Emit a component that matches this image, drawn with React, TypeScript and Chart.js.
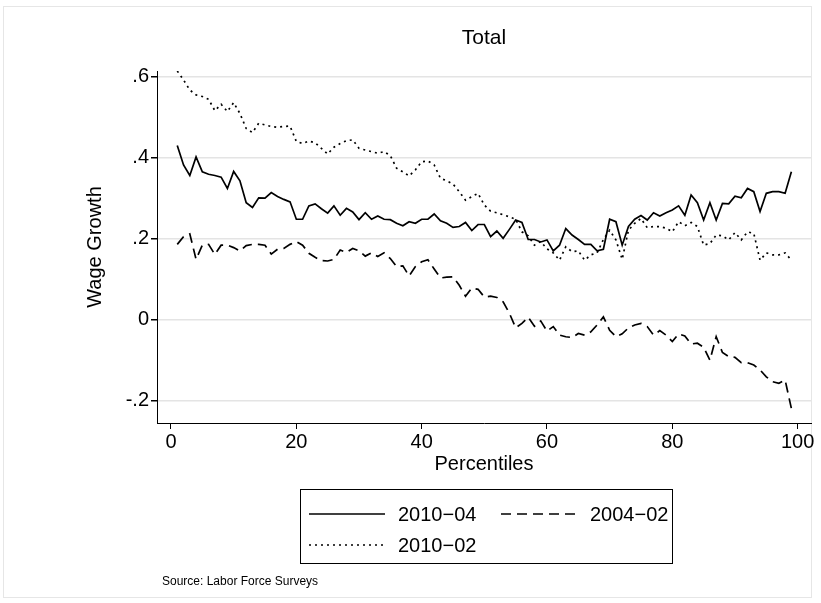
import React, { useEffect, useRef } from "react";
import { Chart, registerables } from "chart.js";

Chart.register(...registerables);

const PERCENTILES = [
  1, 2, 3, 4, 5, 6, 7, 8, 9, 10, 11, 12, 13, 14, 15, 16, 17, 18, 19, 20,
  21, 22, 23, 24, 25, 26, 27, 28, 29, 30, 31, 32, 33, 34, 35, 36, 37, 38, 39, 40,
  41, 42, 43, 44, 45, 46, 47, 48, 49, 50, 51, 52, 53, 54, 55, 56, 57, 58, 59, 60,
  61, 62, 63, 64, 65, 66, 67, 68, 69, 70, 71, 72, 73, 74, 75, 76, 77, 78, 79, 80,
  81, 82, 83, 84, 85, 86, 87, 88, 89, 90, 91, 92, 93, 94, 95, 96, 97, 98, 99,
];

const GROWTH_2010_04 = [
  0.430, 0.382, 0.356, 0.402, 0.365, 0.359, 0.356, 0.352, 0.324, 0.366,
  0.343, 0.289, 0.277, 0.301, 0.300, 0.314, 0.304, 0.297, 0.291, 0.248,
  0.248, 0.281, 0.286, 0.274, 0.263, 0.281, 0.258, 0.275, 0.266, 0.247,
  0.264, 0.248, 0.256, 0.248, 0.247, 0.238, 0.232, 0.242, 0.238, 0.248,
  0.248, 0.261, 0.244, 0.238, 0.228, 0.230, 0.240, 0.220, 0.235, 0.235,
  0.205, 0.219, 0.201, 0.223, 0.246, 0.240, 0.198, 0.198, 0.192, 0.197,
  0.170, 0.184, 0.225, 0.209, 0.198, 0.186, 0.186, 0.170, 0.174, 0.248,
  0.242, 0.184, 0.230, 0.248, 0.257, 0.246, 0.264, 0.256, 0.264, 0.271,
  0.281, 0.258, 0.308, 0.289, 0.246, 0.289, 0.246, 0.287, 0.286, 0.305,
  0.301, 0.324, 0.316, 0.267, 0.312, 0.316, 0.316, 0.312, 0.365,
];

const GROWTH_2004_02 = [
  0.186, 0.205, 0.212, 0.149, 0.184, 0.186, 0.161, 0.184, 0.184, 0.178,
  0.170, 0.183, 0.186, 0.186, 0.184, 0.162, 0.174, 0.176, 0.186, 0.193,
  0.184, 0.164, 0.154, 0.146, 0.145, 0.149, 0.172, 0.166, 0.176, 0.170,
  0.157, 0.165, 0.156, 0.165, 0.151, 0.131, 0.133, 0.108, 0.131, 0.143,
  0.148, 0.125, 0.103, 0.105, 0.106, 0.085, 0.058, 0.078, 0.075, 0.056,
  0.058, 0.055, 0.044, 0.016, -0.020, -0.009, 0.006, -0.016, -0.003, -0.028,
  -0.017, -0.038, -0.042, -0.044, -0.034, -0.038, -0.030, -0.013, 0.007, -0.026,
  -0.042, -0.035, -0.020, -0.013, -0.009, -0.017, -0.038, -0.027, -0.038, -0.054,
  -0.035, -0.040, -0.060, -0.058, -0.068, -0.100, -0.042, -0.081, -0.091, -0.093,
  -0.106, -0.106, -0.112, -0.124, -0.141, -0.153, -0.157, -0.149, -0.219,
];

const GROWTH_2010_02 = [
  0.614, 0.592, 0.567, 0.555, 0.551, 0.544, 0.516, 0.532, 0.514, 0.536,
  0.509, 0.472, 0.462, 0.485, 0.481, 0.477, 0.475, 0.477, 0.478, 0.440,
  0.435, 0.441, 0.437, 0.423, 0.409, 0.426, 0.435, 0.442, 0.444, 0.423,
  0.419, 0.415, 0.411, 0.415, 0.405, 0.374, 0.365, 0.355, 0.370, 0.390,
  0.392, 0.382, 0.349, 0.343, 0.335, 0.316, 0.295, 0.304, 0.312, 0.283,
  0.268, 0.264, 0.259, 0.254, 0.248, 0.217, 0.207, 0.184, 0.193, 0.175,
  0.165, 0.147, 0.180, 0.168, 0.170, 0.147, 0.160, 0.165, 0.198, 0.221,
  0.197, 0.149, 0.221, 0.238, 0.250, 0.227, 0.230, 0.230, 0.226, 0.217,
  0.242, 0.232, 0.240, 0.230, 0.184, 0.188, 0.209, 0.207, 0.197, 0.215,
  0.197, 0.217, 0.213, 0.147, 0.165, 0.160, 0.160, 0.165, 0.147,
];

const X_TICKS = [0, 20, 40, 60, 80, 100];
const Y_TICKS = [-0.2, 0, 0.2, 0.4, 0.6];
const Y_TICK_LABELS = ["-.2", "0", ".2", ".4", ".6"];

const SERIES_LABELS = ["2010\u221204", "2004\u221202", "2010\u221202"];
const TITLE = "Total";
const X_TITLE = "Percentiles";
const Y_TITLE = "Wage Growth";
const NOTE = "Source: Labor Force Surveys";

const FONT = "'Liberation Sans', Arial, Helvetica, sans-serif";

const DASHES: number[][] = [[], [10, 6], [2, 4]];

const framePlugin = {
  id: "stataFrame",
  beforeDraw(chart: any) {
    const ctx = chart.ctx as CanvasRenderingContext2D;
    ctx.save();
    ctx.fillStyle = "#fff";
    ctx.fillRect(0, 0, chart.width, chart.height);
    ctx.strokeStyle = "#e6e6e6";
    ctx.lineWidth = 1;
    ctx.strokeRect(3.5, 6.5, 808, 591);
    ctx.restore();
  },
};

const legendPlugin = {
  id: "stataLegend",
  afterDraw(chart: any) {
    const ctx = chart.ctx as CanvasRenderingContext2D;
    ctx.save();
    ctx.strokeStyle = "#000";
    ctx.lineWidth = 1;
    ctx.strokeRect(300.5, 489.5, 372, 74);

    const items = [
      { x: 309, y: 514, ds: 0 },
      { x: 501, y: 514, ds: 1 },
      { x: 309, y: 545, ds: 2 },
    ];
    ctx.font = `20px ${FONT}`;
    ctx.fillStyle = "#000";
    ctx.textBaseline = "middle";
    ctx.textAlign = "left";
    items.forEach((it) => {
      const ds = chart.data.datasets[it.ds];
      ctx.beginPath();
      ctx.setLineDash(ds.borderDash || []);
      ctx.lineWidth = 1.6;
      ctx.strokeStyle = "#000";
      ctx.moveTo(it.x, it.y);
      ctx.lineTo(it.x + 76, it.y);
      ctx.stroke();
      ctx.setLineDash([]);
      ctx.fillText(ds.label, it.x + 89, it.y + 1);
    });

    ctx.font = `12px ${FONT}`;
    ctx.fillText(NOTE, 162, 582);
    ctx.restore();
  },
};

export default function App() {
  const canvasRef = useRef<HTMLCanvasElement | null>(null);

  useEffect(() => {
    const canvas = canvasRef.current;
    if (!canvas) return;
    const seriesValues = [GROWTH_2010_04, GROWTH_2004_02, GROWTH_2010_02];
    const chart = new Chart(canvas, {
      type: "line",
      data: {
        datasets: seriesValues.map((vals, i) => ({
          label: SERIES_LABELS[i],
          data: PERCENTILES.map((p, j) => ({ x: p, y: vals[j] })),
          borderColor: "#000",
          backgroundColor: "#000",
          borderWidth: 1.7,
          borderDash: DASHES[i],
          pointRadius: 0,
          tension: 0,
          fill: false,
        })),
      },
      options: {
        animation: false,
        responsive: false,
        maintainAspectRatio: false,
        devicePixelRatio: 1,
        layout: { padding: { left: 0, right: 10, top: 0, bottom: 120 } },
        plugins: {
          legend: { display: false },
          tooltip: { enabled: false },
          title: {
            display: true,
            text: TITLE,
            fullSize: false,
            color: "#000",
            font: { family: FONT, size: 21, weight: "normal", lineHeight: 1.2 },
            padding: { top: 26, bottom: 19.8 },
          },
        },
        scales: {
          x: {
            type: "linear",
            min: -2.234,
            max: 102.13,
            afterBuildTicks: (s: any) => {
              s.ticks = X_TICKS.map((v) => ({ value: v }));
            },
            afterFit: (s: any) => {
              s.height = 60;
              s.paddingLeft = 0;
              s.paddingRight = 0;
            },
            ticks: {
              color: "#000",
              font: { family: FONT, size: 20 },
              padding: 1,
              maxRotation: 0,
              autoSkip: false,
              callback: (v: any) => String(v),
            },
            grid: {
              display: true,
              drawOnChartArea: false,
              drawTicks: true,
              tickLength: 6,
              color: "#000",
              lineWidth: 1,
            },
            border: { display: true, color: "#000", width: 1 },
            title: {
              display: true,
              text: X_TITLE,
              color: "#000",
              font: { family: FONT, size: 20, lineHeight: 1.2 },
              padding: { top: 0, bottom: 6.6 },
            },
          },
          y: {
            type: "linear",
            min: -0.255,
            max: 0.614,
            afterBuildTicks: (s: any) => {
              s.ticks = Y_TICKS.map((v) => ({ value: v }));
            },
            afterFit: (s: any) => {
              s.width = 157;
              s.paddingTop = 0;
              s.paddingBottom = 0;
            },
            ticks: {
              color: "#000",
              font: { family: FONT, size: 20 },
              padding: 2,
              autoSkip: false,
              callback: (v: any) => {
                const idx = Y_TICKS.findIndex((t) => Math.abs(t - Number(v)) < 1e-6);
                return idx >= 0 ? Y_TICK_LABELS[idx] : "";
              },
            },
            grid: {
              display: true,
              drawOnChartArea: true,
              drawTicks: true,
              tickLength: 6,
              color: "#e4e4e4",
              tickColor: "#000",
              lineWidth: 1.5,
            },
            border: { display: true, color: "#000", width: 1 },
            title: {
              display: true,
              text: Y_TITLE,
              color: "#000",
              font: { family: FONT, size: 20, lineHeight: 1.2 },
              padding: { top: 83.6, bottom: 0 },
            },
          },
        },
      },
      plugins: [framePlugin, legendPlugin],
    });
    return () => chart.destroy();
  }, []);

  return (
    <div style={{ position: "fixed", left: 0, top: 0, width: 821, height: 603, background: "#fff" }}>
      <canvas ref={canvasRef} width={821} height={603} style={{ width: 821, height: 603, display: "block" }} />
    </div>
  );
}
